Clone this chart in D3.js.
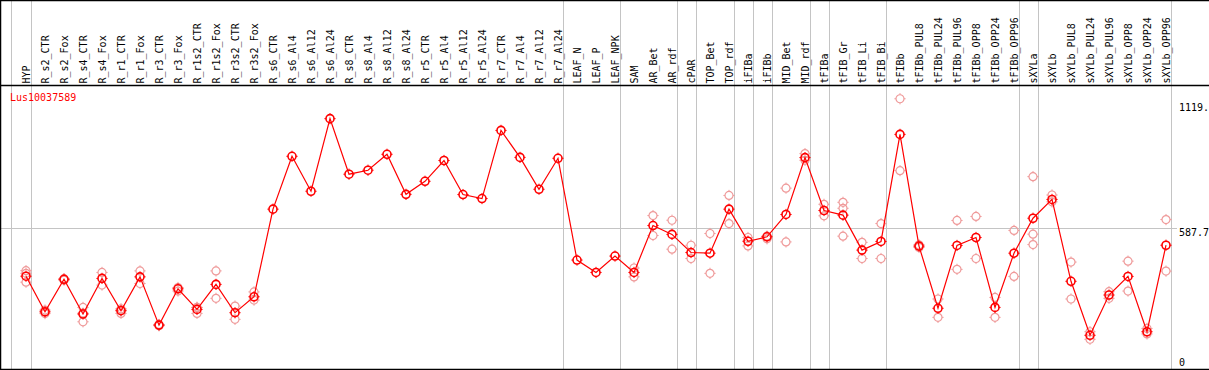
<!DOCTYPE html>
<html>
<head>
<meta charset="utf-8">
<script src="https://cdn.jsdelivr.net/npm/d3@7"></script>
<style>
  body { margin: 0; background: #fff; }
  svg { display: block; }
  text { font-family: "DejaVu Sans Mono", monospace; font-size: 10px; }
</style>
</head>
<body>
<svg id="chart" width="1209" height="370"></svg>
<script>

const gene = "Lus10037589"

const samples = [
  "HYP",
  "R_s2_CTR", "R_s2_Fox", "R_s4_CTR", "R_s4_Fox", "R_r1_CTR", "R_r1_Fox",
  "R_r3_CTR", "R_r3_Fox", "R_r1s2_CTR", "R_r1s2_Fox", "R_r3s2_CTR", "R_r3s2_Fox",
  "R_s6_CTR", "R_s6_Al4", "R_s6_Al12", "R_s6_Al24",
  "R_s8_CTR", "R_s8_Al4", "R_s8_Al12", "R_s8_Al24",
  "R_r5_CTR", "R_r5_Al4", "R_r5_Al12", "R_r5_Al24",
  "R_r7_CTR", "R_r7_Al4", "R_r7_Al12", "R_r7_Al24",
  "LEAF_N", "LEAF_P", "LEAF_NPK",
  "SAM", "AR_Bet", "AR_rdf",
  "cPAR",
  "TOP_Bet", "TOP_rdf",
  "iFIBa",
  "iFIBb",
  "MID_Bet", "MID_rdf",
  "tFIBa",
  "tFIB_Gr", "tFIB_Li", "tFIB_Bi",
  "tFIBb", "tFIBb_PUL8", "tFIBb_PUL24", "tFIBb_PUL96", "tFIBb_OPP8", "tFIBb_OPP24", "tFIBb_OPP96",
  "sXYLa",
  "sXYLb", "sXYLb_PUL8", "sXYLb_PUL24", "sXYLb_PUL96", "sXYLb_OPP8", "sXYLb_OPP24", "sXYLb_OPP96"
]

const means = [
  371,
  210, 357, 200, 361, 215, 368,
  150, 314, 221, 334, 206, 278,
  674, 913, 755, 1083,
  832, 850, 922, 741,
  800, 894, 740, 722,
  1030, 908, 764, 904,
  444, 388, 462,
  388, 600, 560,
  478,
  475, 674,
  529,
  549,
  650, 907,
  668,
  647, 489, 528,
  1012, 507, 226, 510, 546, 230, 475,
  633,
  718, 348, 104, 286, 370, 120, 511
]

const replicates = [
  [396, 384, 344],
  [218, 202], [360, 353], [230, 165, 204], [388, 331], [218, 203, 224], [395, 338],
  [153, 147], [320, 304], [230, 203, 230], [395, 271], [236, 176], [300, 263],
  [], [], [], [],
  [], [], [], [],
  [], [], [], [],
  [], [], [], [],
  [], [], [],
  [408, 368], [645, 555], [624, 493],
  [511, 451],
  [564, 384], [736, 609],
  [546, 508],
  [552, 540],
  [769, 526], [925, 895],
  [696, 644],
  [705, 678, 552], [524, 451], [609, 451],
  [1173, 848], [501, 513], [268, 185], [623, 402], [641, 451], [275, 185], [578, 370],
  [821, 561, 514],
  [738, 707], [435, 268], [120, 86], [301, 271], [439, 304], [135, 110], [627, 394]
]

// last sample of each group, a grey rule follows it
const groupEnds = [
  "HYP", "R_r7_Al24", "LEAF_NPK", "AR_rdf", "cPAR", "TOP_rdf", "iFIBa",
  "iFIBb", "MID_rdf", "tFIBa", "tFIB_Bi", "tFIBb_OPP96", "sXYLa", "sXYLb_OPP96"
]

const yTicks = [0, 587.7, 1119]
const yTickLabels = ["0", "587.7", "1119."]
const gridValues = [587.7]

let width = 1209,
    height = 370,
    headerY = 85,
    r = 4

let grey = "#c4c4c4",
    pink = "#ef9a9a"

let svg = d3.select("#chart")

let x = d3.scalePoint()
  .domain(samples)
  .range([26, 1166])

let y = d3.scaleLinear()
  .domain([0, 1119])
  .range([358.3, 110.7])

// group separators
let sepX = [x(samples[0]) - x.step() + 4].concat(groupEnds.map(s => x(s) + 4.6))
svg.append("g")
  .selectAll("line")
  .data(sepX).enter()
  .append("line")
  .attr("x1", d => Math.round(d) + 0.5)
  .attr("x2", d => Math.round(d) + 0.5)
  .attr("y1", 0)
  .attr("y2", height)
  .attr("stroke", grey)

// horizontal grid
svg.append("g")
  .selectAll("line")
  .data(gridValues).enter()
  .append("line")
  .attr("x1", 0)
  .attr("x2", 1177)
  .attr("y1", d => Math.round(y(d)) + 0.5)
  .attr("y2", d => Math.round(y(d)) + 0.5)
  .attr("stroke", grey)

// frame and header rule
svg.append("path")
  .attr("d", `M${width},0.5H0.5V${height - 0.5}H${width}M0,${headerY + 0.5}H${width}`)
  .attr("fill", "none")
  .attr("stroke", "#000")
  .attr("stroke-width", 1.5)

// sample labels
svg.append("g")
  .selectAll("text")
  .data(samples).enter()
  .append("text")
  .attr("transform", d => `translate(${Math.round(x(d)) + 4},${headerY - 1.5}) rotate(-90)`)
  .text(d => d)

// y tick labels
svg.append("g")
  .selectAll("text")
  .data(yTicks).enter()
  .append("text")
  .attr("x", 1179)
  .attr("y", (d, i) => i == yTicks.length - 1 ? y(d) : y(d) + 7.6)
  .text((d, i) => yTickLabels[i])

svg.append("text")
  .attr("x", 10)
  .attr("y", 100.6)
  .attr("fill", "red")
  .text(gene)

function marker(sel, color, sw) {
  let g = sel.append("g")
    .attr("transform", d => `translate(${d.x},${d.y})`)
  g.append("circle")
    .attr("r", r)
    .attr("fill", "none")
    .attr("stroke", color)
    .attr("stroke-width", sw)
  g.append("path")
    .attr("d", `M0,${-r - 1.6}V${-r}M0,${r}V${r + 1.6}M${-r - 1.6},0H${-r}M${r},0H${r + 1.6}`)
    .attr("stroke", color)
    .attr("stroke-width", 1)
}

// replicate points
let reps = []
samples.forEach((s, i) => replicates[i].forEach(v => reps.push({x: x(s), y: y(v)})))
svg.append("g")
  .selectAll("g")
  .data(reps).enter()
  .call(marker, pink, 1.2)

// mean line and points
let pts = samples.map((s, i) => ({x: x(s), y: y(means[i])}))
svg.append("path")
  .datum(pts)
  .attr("d", d3.line().x(d => d.x).y(d => d.y))
  .attr("fill", "none")
  .attr("stroke", "red")
  .attr("stroke-width", 1.2)

svg.append("g")
  .selectAll("g")
  .data(pts).enter()
  .call(marker, "red", 1.6)

</script>
</body>
</html>
